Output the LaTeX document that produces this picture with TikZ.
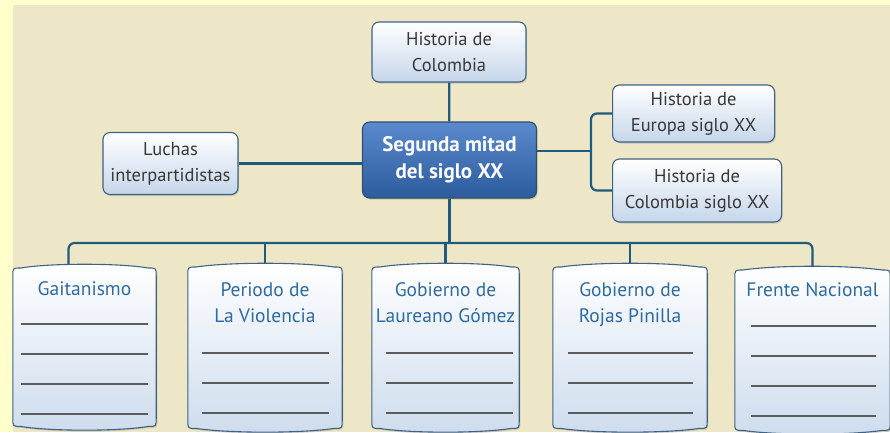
\documentclass[tikz,border=0pt]{standalone}
\usepackage{fontspec}
\setmainfont{PT Sans}
\usetikzlibrary{calc,shadows}
\definecolor{paper}{HTML}{FFFFCC}
\definecolor{scan}{HTML}{EEE7C7}
\definecolor{frame}{HTML}{3E6283}
\definecolor{wire}{HTML}{1F5B7F}
\definecolor{boxlo}{HTML}{C5D6EA}
\definecolor{deep}{HTML}{2C5C9C}
\definecolor{mid}{HTML}{5A8ACD}
\definecolor{title}{HTML}{2D6BA3}
\definecolor{ink}{HTML}{383838}
\definecolor{rule}{HTML}{5C5C5C}

% pillow outline round an empty frame node
\newcommand\pillow[1]{%
  \draw[sheet] ($(#1.north west)+(0,8)$) .. controls (#1.north west) .. ($(#1.north west)+(8,0)$)
    .. controls ($(#1.north)+(-35,-5)$) and ($(#1.north)+(35,-5)$) .. ($(#1.north east)+(-8,0)$)
    .. controls (#1.north east) .. ($(#1.north east)+(0,8)$)
    -- ($(#1.south east)+(0,-8)$)
    .. controls (#1.south east) .. ($(#1.south east)+(-8,0)$)
    .. controls ($(#1.south)+(35,5)$) and ($(#1.south)+(-35,5)$) .. ($(#1.south west)+(8,0)$)
    .. controls (#1.south west) .. ($(#1.south west)+(0,-8)$) -- cycle;}

\begin{document}
\begin{tikzpicture}[x=1pt, y=-1pt,
  topbox/.style={draw=frame, line width=1.1pt, rounded corners=7pt, top color=white, bottom color=boxlo, text=ink, align=center, inner sep=0pt, font=\fontsize{18.5}{26}\selectfont, drop shadow={opacity=0.3, shadow xshift=1.2pt, shadow yshift=-1.5pt}},
  keybox/.style={draw=frame!80!black, line width=1.1pt, rounded corners=7pt, top color=mid, bottom color=deep, text=white, align=center, inner sep=0pt, font=\fontsize{21}{27}\selectfont\bfseries, drop shadow={opacity=0.35, shadow xshift=1.2pt, shadow yshift=-1.5pt}},
  frm/.style={anchor=north, inner sep=0pt},
  sheet/.style={draw=frame, line width=1.1pt, top color=white, bottom color=boxlo!85, drop shadow={opacity=0.3, shadow xshift=1.2pt, shadow yshift=-1.5pt}},
  ttl/.style={anchor=north, text=title, align=center, inner sep=0pt, font=\fontsize{19.5}{26}\selectfont},
  conn/.style={draw=wire, line width=2.2pt, rounded corners=6pt},
  blank/.style={draw=rule, line width=1.2pt}]
\useasboundingbox (0,0) rectangle (890,432);
\fill[paper] (0,0) rectangle (890,432);
\fill[scan] (13,5) rectangle (890,432);

\node[topbox, minimum width=154, minimum height=60] (hist) at (449,52) {Historia de\\Colombia};
\node[keybox, minimum width=174, minimum height=76] (main) at (449.5,160) {Segunda mitad\\del siglo XX};
\node[topbox, minimum width=135, minimum height=62] (luchas) at (170.5,163.5) {Luchas\\interpartidistas};
\node[topbox, anchor=west, minimum width=162, minimum height=57] (europa) at (612,113.5) {Historia de\\Europa siglo XX};
\node[topbox, anchor=west, minimum width=169, minimum height=63] (colxx) at (612,190.5) {Historia de\\Colombia siglo XX};

\node[frm, minimum width=143, minimum height=158] (gait) at (84.5,268) {};
\node[frm, minimum width=154, minimum height=161] (viol) at (265,267) {};
\node[frm, minimum width=147, minimum height=161] (laur) at (445.5,267) {};
\node[frm, minimum width=154, minimum height=161] (rojas) at (630,267) {};
\node[frm, minimum width=155, minimum height=160] (frente) at (812.5,270) {};

\coordinate (rj) at (591,151);
\coordinate (bus) at (449,243);
\draw[conn] (hist) -- (main);
\draw[conn] (luchas.east) -- (luchas.east -| main.west);
\draw[conn] (main.east |- rj) -- (rj);
\draw[conn] (europa.west) -| (rj) |- (colxx.west);
\draw[conn] (main.south) -- (main.south |- bus);
\draw[conn] ($(gait.north)+(-16,0)$) |- (bus) -| (frente.north);
\draw[conn] (viol.north |- bus) -- (viol.north);
\draw[conn] (laur.north |- bus) -- (laur.north);
\draw[conn] (rojas.north |- bus) -- (rojas.north);

\pillow{gait} \pillow{viol} \pillow{laur} \pillow{rojas} \pillow{frente}
\node[ttl] (gaitT) at ($(gait.north)+(0,13)$) {Gaitanismo};
\node[ttl] (violT) at ($(viol.north)+(0,15)$) {Periodo de\\La Violencia};
\node[ttl] (laurT) at ($(laur.north)+(0,15)$) {Gobierno de\\Laureano Gómez};
\node[ttl] (rojasT) at ($(rojas.north)+(0,15)$) {Gobierno de\\Rojas Pinilla};
\node[ttl] (frenteT) at ($(frente.north)+(0,12)$) {Frente Nacional};
\foreach \d in {56,86,116,146} {
  \draw[blank] ($(gait.north)+(-64,\d)$) -- ++(127,0);
  \draw[blank] ($(frente.north)+(-62,\d)$) -- ++(125,0);
}
\foreach \d in {86,116,146} {
  \draw[blank] ($(viol.north)+(-63,\d)$) -- ++(127,0);
  \draw[blank] ($(laur.north)+(-60,\d)$) -- ++(127,0);
  \draw[blank] ($(rojas.north)+(-62,\d)$) -- ++(125,0);
}
\end{tikzpicture}
\end{document}
